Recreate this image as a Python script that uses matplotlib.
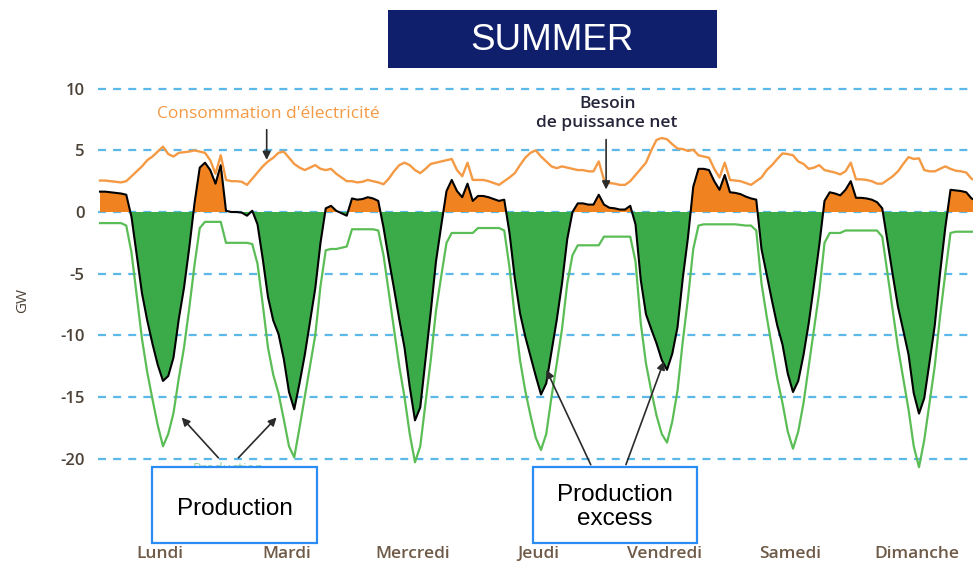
import numpy as np
import matplotlib
matplotlib.use("Agg")
import matplotlib.pyplot as plt
from matplotlib.patches import Rectangle

# Hourly values over one summer week, Monday 00h -> Sunday 23h (GW)
consumption = [
    2.55, 2.55, 2.5, 2.45, 2.4, 2.5, 2.9, 3.3, 3.7, 4.2, 4.5, 4.9, 5.3, 4.7, 4.5, 4.8, 4.85, 4.9, 5.0, 4.9, 4.8, 4.2, 3.1, 4.6,
    2.6, 2.5, 2.5, 2.45, 2.2, 2.7, 3.2, 3.7, 4.1, 4.4, 4.8, 4.9, 4.4, 3.9, 3.6, 3.4, 3.6, 3.8, 3.5, 3.4, 3.5, 3.1, 2.8, 2.5,
    2.5, 2.4, 2.45, 2.6, 2.5, 2.4, 2.25, 2.7, 3.3, 3.8, 4.0, 3.8, 3.4, 3.15, 3.5, 3.9, 4.0, 4.1, 4.2, 4.3, 3.4, 2.9, 4.0, 2.6,
    2.6, 2.6, 2.5, 2.35, 2.2, 2.5, 2.8, 3.15, 3.8, 4.4, 4.8, 5.0, 4.5, 4.1, 3.7, 3.55, 3.7, 3.6, 3.5, 3.4, 3.4, 3.3, 3.3, 4.1,
    2.6, 2.35, 2.3, 2.2, 2.2, 2.5, 3.0, 3.5, 4.0, 5.0, 5.85, 6.0, 5.9, 5.5, 5.15, 5.1, 4.95, 5.05, 4.6, 4.5, 4.4, 3.5, 2.8, 4.0,
    2.6, 2.55, 2.5, 2.35, 2.2, 2.5, 2.8, 3.4, 3.8, 4.3, 4.75, 4.7, 4.6, 4.1, 3.9, 3.5, 3.6, 3.8, 3.4, 3.3, 3.2, 3.05, 3.3, 4.0,
    2.65, 2.65, 2.6, 2.5, 2.3, 2.3, 2.6, 2.9, 3.3, 3.9, 4.45, 4.3, 4.35, 3.4, 3.3, 3.3, 3.5, 3.7, 3.5, 3.35, 3.3, 3.2, 2.7, 2.5,
]
production = [
    -0.9, -0.9, -0.9, -0.9, -0.9, -1.1, -3.3, -6.8, -10.3, -13.0, -15.2, -17.3, -19.0, -18.0, -16.3, -13.5, -11.0, -7.8, -4.3, -1.3, -0.8, -0.8, -0.8, -0.8,
    -2.5, -2.5, -2.5, -2.5, -2.5, -2.6, -4.2, -7.5, -11.0, -13.2, -14.7, -16.8, -19.0, -19.9, -17.5, -15.0, -12.5, -10.0, -6.0, -3.1, -3.0, -3.0, -2.9, -2.8,
    -1.4, -1.4, -1.4, -1.4, -1.4, -1.5, -3.5, -6.5, -9.5, -12.5, -15.0, -18.0, -20.3, -19.0, -15.5, -12.0, -8.0, -5.2, -2.5, -1.7, -1.7, -1.7, -1.7, -1.7,
    -1.3, -1.3, -1.3, -1.3, -1.3, -1.5, -4.5, -8.5, -12.0, -14.5, -16.5, -18.3, -19.3, -18.0, -15.0, -12.3, -9.5, -5.8, -3.5, -2.7, -2.7, -2.7, -2.7, -2.7,
    -2.0, -2.0, -2.0, -2.0, -2.0, -2.0, -4.0, -9.0, -12.3, -14.5, -16.5, -18.0, -18.7, -17.0, -14.5, -10.5, -7.0, -3.0, -1.1, -1.0, -1.0, -1.0, -1.0, -1.0,
    -1.0, -1.0, -1.05, -1.1, -1.1, -1.5, -5.8, -8.5, -11.0, -13.5, -15.5, -17.8, -19.2, -17.8, -15.5, -12.5, -9.5, -6.5, -2.5, -1.7, -1.7, -1.7, -1.5, -1.5,
    -1.5, -1.5, -1.5, -1.5, -1.5, -2.0, -5.0, -8.0, -11.0, -13.5, -16.0, -19.0, -20.7, -18.5, -15.5, -12.5, -8.5, -5.0, -1.7, -1.6, -1.6, -1.6, -1.6, -1.6,
]
days = ["Lundi", "Mardi", "Mercredi", "Jeudi", "Vendredi", "Samedi", "Dimanche"]
y_ticks = [10, 5, 0, -5, -10, -15, -20]

ORANGE = "#f0831f"
ORANGE_LINE = "#f49a45"
GREEN = "#3bab4a"
GREEN_LINE = "#5bbd55"
GRID = "#5bb8e8"
TICK = "#4c4238"
DAY = "#6e5a47"
NAVY = "#0f1f6b"
BOX_EDGE = "#2a8cf5"

plt.rcParams["font.family"] = ["Open Sans", "DejaVu Sans"]

hours = np.arange(len(consumption))
cons = np.array(consumption)
prod = np.array(production)
net = cons + prod

W, H = 973, 563
fig = plt.figure(figsize=(W / 100, H / 100), dpi=100)

# pixel layout of the plot area: 5.25 px per hour, 12.33 px per GW, 0 GW at y=212
xlim = (-0.4, 168)
ylim = (-21.5, 11)
px_left = 100 + xlim[0] * 5.25
px_right = 100 + xlim[1] * 5.25
px_top = 212 - ylim[1] * 12.33
px_bottom = 212 - ylim[0] * 12.33
ax = fig.add_axes([px_left / W, 1 - px_bottom / H,
                   (px_right - px_left) / W, (px_bottom - px_top) / H])
ax.set_xlim(*xlim)
ax.set_ylim(*ylim)

# net need fills
ax.fill_between(hours, 0, net, where=net >= 0, interpolate=True, color=ORANGE, lw=0, zorder=2)
ax.fill_between(hours, 0, net, where=net <= 0, interpolate=True, color=GREEN, lw=0, zorder=2)
ax.plot(hours, net, color="black", lw=1.5, zorder=3)
ax.plot(hours, prod, color=GREEN_LINE, lw=1.6, zorder=3)
ax.plot(hours, cons, color=ORANGE_LINE, lw=1.7, zorder=4)

ax.set_yticks(y_ticks)
ax.set_yticklabels([str(v) for v in y_ticks], fontweight="semibold")
ax.grid(axis="y", color=GRID, linestyle=(0, (3.6, 3.2)), lw=1.6, zorder=0)
ax.set_axisbelow(True)
ax.tick_params(axis="y", length=0, pad=9.5, labelcolor=TICK, labelsize=12)
ax.set_xticks(np.arange(len(days)) * 24 + 11.5)
ax.set_xticklabels(days, fontweight="semibold", va="baseline")
ax.tick_params(axis="x", length=0, pad=58, labelcolor=DAY, labelsize=12.5)
for s in ax.spines.values():
    s.set_visible(False)
ax.set_ylabel("GW", color=TICK, fontsize=11)
ax.yaxis.set_label_coords((30 - px_left) / (px_right - px_left), (px_bottom - 300) / (px_bottom - px_top))

arrow = dict(arrowstyle="-|>", color="#2b2b2b", lw=1.2, mutation_scale=12)

# annotations
ax.text(32, 7.95, "Consommation d'électricité", color=ORANGE_LINE, fontsize=12.5,
        ha="center", va="center")
ax.annotate("", xy=(31.75, 4.0), xytext=(31.75, 6.9), arrowprops=arrow, zorder=5)
ax.text(96.6, 7.95, "Besoin\nde puissance net", color="#26263a", fontsize=12.5,
        fontweight="semibold", ha="center", va="center", linespacing=1.25)
ax.annotate("", xy=(96.4, 1.6), xytext=(96.4, 6.1), arrowprops=arrow, zorder=5)

ax.text(24.4, -20.9, "Production", color="#9fd59a", fontsize=10, ha="center", va="center",
        clip_on=False)
ax.annotate("", xy=(15.2, -16.5), xytext=(22.9, -20.1), arrowprops=arrow, annotation_clip=False)
ax.annotate("", xy=(34.0, -16.5), xytext=(26.0, -20.1), arrowprops=arrow, annotation_clip=False)
ax.annotate("", xy=(84.8, -12.6), xytext=(93.7, -20.7), arrowprops=arrow, annotation_clip=False)
ax.annotate("", xy=(107.6, -11.9), xytext=(100.0, -20.7), arrowprops=arrow, annotation_clip=False)


def fig_box(x0, y0, x1, y1, face, edge, lw):
    fig.add_artist(Rectangle((x0 / W, 1 - y1 / H), (x1 - x0) / W, (y1 - y0) / H,
                             transform=fig.transFigure, facecolor=face, edgecolor=edge, lw=lw, zorder=5))


# title box
fig_box(388, 10, 717, 68, NAVY, NAVY, 0)
fig.text(552.5 / W, 1 - 40 / H, "SUMMER", color="white", fontsize=26.5, ha="center", va="center",
         family="Liberation Sans", zorder=6)

# callout boxes
fig_box(152, 467, 317, 543, "white", BOX_EDGE, 1.6)
fig.text(234.5 / W, 1 - 509 / H, "Production", color="black", fontsize=17.5, ha="center", va="center",
         family="Liberation Sans", zorder=6)
fig_box(533, 467, 697, 543, "white", BOX_EDGE, 1.6)
fig.text(615 / W, 1 - 507 / H, "Production\nexcess", color="black", fontsize=17.5, ha="center",
         va="center", family="Liberation Sans", linespacing=1.1, zorder=6)

fig.savefig("out.png", dpi=100)
